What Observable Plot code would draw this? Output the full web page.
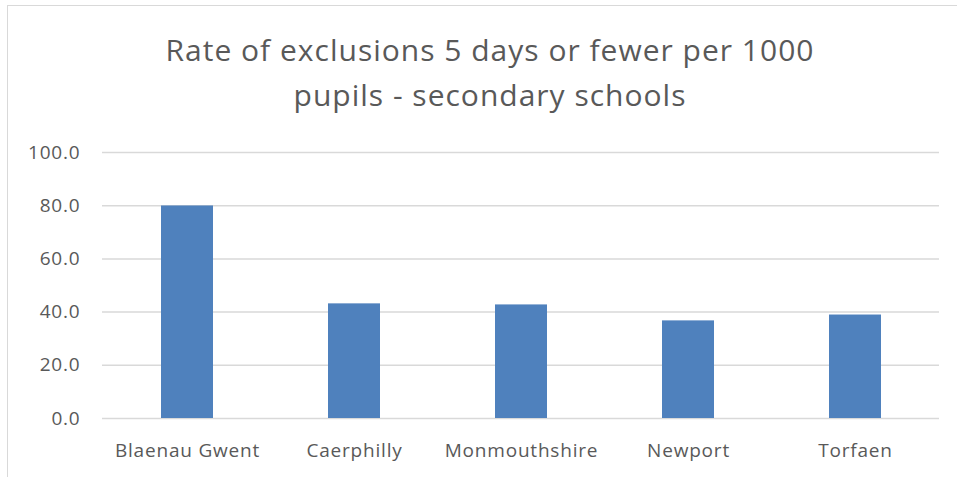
<!DOCTYPE html>
<html>
<head>
<meta charset="utf-8">
<script src="https://cdn.jsdelivr.net/npm/d3@7"></script>
<script src="https://cdn.jsdelivr.net/npm/@observablehq/plot@0.6"></script>
<style>
  html, body { margin: 0; padding: 0; background: #fff; }
  #wrap { position: relative; width: 957px; height: 477px; overflow: hidden; font-family: "Open Sans", sans-serif; }
  #frame { position: absolute; left: 7px; top: 5px; width: 1000px; height: 600px; border-left: 1.5px solid #d9d9d9; border-top: 1.5px solid #d9d9d9; box-sizing: border-box; }
  #title { position: absolute; left: 0; top: 27px; width: 980px; text-align: center; color: #595959; font-size: 30px; letter-spacing: 1px; line-height: 45px; font-weight: 400; }
  #chart { position: absolute; left: 0; top: 130px; }
  #chart text { letter-spacing: 0.8px; }
</style>
</head>
<body>
<div id="wrap">
  <div id="frame"></div>
  <div id="title">Rate of exclusions 5 days or fewer per 1000<br>pupils - secondary schools</div>
  <div id="chart"></div>
</div>
<script>
const categories = ["Blaenau Gwent", "Caerphilly", "Monmouthshire", "Newport", "Torfaen"];
const values = [79.9, 43.1, 42.7, 36.7, 38.9];
const yTicks = [0, 20, 40, 60, 80, 100];

const data = categories.map((c, i) => ({category: c, value: values[i]}));

const plot = Plot.plot({
  width: 957,
  height: 347,
  marginTop: 22,
  marginBottom: 59,
  marginLeft: 102,
  marginRight: 18,
  style: {fontFamily: "Open Sans, sans-serif", color: "#595959", background: "transparent"},
  x: {domain: categories, paddingInner: 0.69, paddingOuter: 0.345, label: null},
  y: {domain: [0, 100], label: null},
  marks: [
    Plot.ruleY(yTicks, {stroke: "#d9d9d9", strokeWidth: 1.5}),
    Plot.barY(data, {x: "category", y: "value", fill: "#4f81bd"}),
    Plot.axisY({ticks: yTicks, tickSize: 0, tickPadding: 22, tickFormat: d3.format(".1f"), fontSize: 19, fill: "#595959"}),
    Plot.axisX({tickSize: 0, tickPadding: 25, fontSize: 19, fill: "#595959"})
  ]
});
document.getElementById("chart").appendChild(plot);
</script>
</body>
</html>
